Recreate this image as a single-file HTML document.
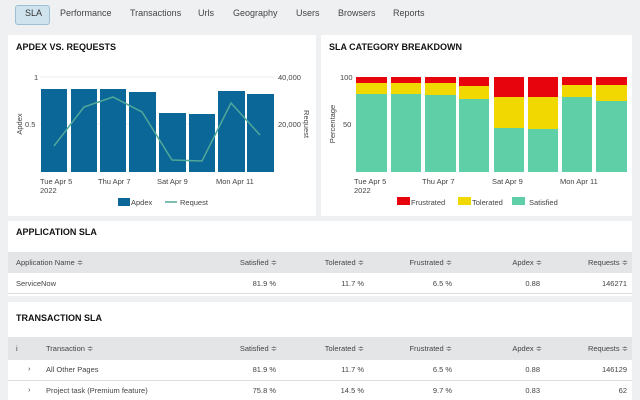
<!DOCTYPE html>
<html><head><meta charset="utf-8"><style>
body{margin:0;width:640px;height:400px;overflow:hidden;background:#eef0f2;font-family:"Liberation Sans",sans-serif;position:relative;color:#333}
.a{position:absolute;white-space:nowrap}
.tab{position:absolute;top:8px;font-size:9px;color:#444}
.panel{position:absolute;background:#fff}
.t{font-size:9px;font-weight:bold;color:#111}
.s{font-size:7.5px;color:#444}
.r{text-align:right}
</style></head><body>
<div class="a" style="left:15px;top:5px;width:35px;height:20px;background:#cfe3ee;border:1px solid #9cbfd2;border-radius:3px;box-sizing:border-box"></div>
<div class="tab" style="left:25px;color:#333">SLA</div>
<div class="tab" style="left:60px">Performance</div>
<div class="tab" style="left:130px">Transactions</div>
<div class="tab" style="left:198px">Urls</div>
<div class="tab" style="left:233px">Geography</div>
<div class="tab" style="left:296px">Users</div>
<div class="tab" style="left:338px">Browsers</div>
<div class="tab" style="left:393px">Reports</div>

<div class="panel" style="left:8px;top:35px;width:308px;height:181px"></div>
<div class="panel" style="left:321px;top:35px;width:311px;height:181px"></div>
<div class="a t" style="left:16px;top:42px">APDEX VS. REQUESTS</div>
<div class="a t" style="left:329px;top:42px">SLA CATEGORY BREAKDOWN</div>

<svg class="a" style="left:0;top:0" width="640" height="220" font-family="Liberation Sans,sans-serif" font-size="7.5" fill="#444">
<line x1="40" y1="77" x2="275" y2="77" stroke="#eee"/>
<line x1="40" y1="124" x2="275" y2="124" stroke="#eee"/>
<g fill="#0b6797">
<rect x="41" y="89" width="26" height="83"/><rect x="71" y="89" width="26" height="83"/>
<rect x="100" y="89" width="26" height="83"/><rect x="129" y="92" width="27" height="80"/>
<rect x="159" y="113" width="27" height="59"/><rect x="189" y="114" width="26" height="58"/>
<rect x="218" y="91" width="27" height="81"/><rect x="247" y="94" width="27" height="78"/>
</g>
<polyline fill="none" stroke="#4fa89a" stroke-width="1.5" points="54,146 84,107 113,97 142,112 172,160 202,161 231,103 260,135"/>
<text x="34" y="80">1</text><text x="25" y="127">0.5</text>
<text x="278" y="80">40,000</text><text x="278" y="127">20,000</text>
<text transform="translate(22,124) rotate(-90)" text-anchor="middle">Apdex</text>
<text transform="translate(304,124) rotate(90)" text-anchor="middle">Request</text>
<text x="40" y="184">Tue Apr 5</text><text x="40" y="193">2022</text>
<text x="98" y="184">Thu Apr 7</text><text x="157" y="184">Sat Apr 9</text><text x="216" y="184">Mon Apr 11</text>
<rect x="118" y="198" width="12" height="8" fill="#0b6797"/><text x="131" y="205">Apdex</text>
<line x1="165" y1="202" x2="177" y2="202" stroke="#4fa89a" stroke-width="1.5"/><text x="180" y="205">Request</text>

<g>
<rect x="356" y="77" width="31" height="95" fill="#e8040c"/><rect x="356" y="83" width="31" height="11" fill="#f0d800"/><rect x="356" y="94" width="31" height="78" fill="#5ecfa6"/>
<rect x="391" y="77" width="30" height="95" fill="#e8040c"/><rect x="391" y="83" width="30" height="11" fill="#f0d800"/><rect x="391" y="94" width="30" height="78" fill="#5ecfa6"/>
<rect x="425" y="77" width="31" height="95" fill="#e8040c"/><rect x="425" y="83" width="31" height="12" fill="#f0d800"/><rect x="425" y="95" width="31" height="77" fill="#5ecfa6"/>
<rect x="459" y="77" width="30" height="95" fill="#e8040c"/><rect x="459" y="86" width="30" height="13" fill="#f0d800"/><rect x="459" y="99" width="30" height="73" fill="#5ecfa6"/>
<rect x="494" y="77" width="30" height="95" fill="#e8040c"/><rect x="494" y="97" width="30" height="31" fill="#f0d800"/><rect x="494" y="128" width="30" height="44" fill="#5ecfa6"/>
<rect x="528" y="77" width="30" height="95" fill="#e8040c"/><rect x="528" y="97" width="30" height="32" fill="#f0d800"/><rect x="528" y="129" width="30" height="43" fill="#5ecfa6"/>
<rect x="562" y="77" width="30" height="95" fill="#e8040c"/><rect x="562" y="85" width="30" height="12" fill="#f0d800"/><rect x="562" y="97" width="30" height="75" fill="#5ecfa6"/>
<rect x="596" y="77" width="31" height="95" fill="#e8040c"/><rect x="596" y="85" width="31" height="16" fill="#f0d800"/><rect x="596" y="101" width="31" height="71" fill="#5ecfa6"/>
</g>
<text x="340" y="80">100</text><text x="343" y="127">50</text>
<text transform="translate(335,124) rotate(-90)" text-anchor="middle">Percentage</text>
<text x="354" y="184">Tue Apr 5</text><text x="354" y="193">2022</text>
<text x="422" y="184">Thu Apr 7</text><text x="492" y="184">Sat Apr 9</text><text x="560" y="184">Mon Apr 11</text>
<rect x="397" y="197" width="13" height="8" fill="#e8040c"/><text x="411" y="205">Frustrated</text>
<rect x="458" y="197" width="13" height="8" fill="#f0d800"/><text x="472" y="205">Tolerated</text>
<rect x="512" y="197" width="13" height="8" fill="#5ecfa6"/><text x="529" y="205">Satisfied</text>
</svg>

<div class="panel" style="left:8px;top:221px;width:624px;height:75px"></div>
<div class="a t" style="left:16px;top:227px">APPLICATION SLA</div>
<div class="a" style="left:8px;top:252px;width:624px;height:21px;background:#e4e5e6"></div>
<div class="a" style="left:8px;top:293px;width:624px;height:1px;background:#ddd"></div>
<div class="a s" style="left:16px;top:258px">Application Name ≑</div>
<div class="a s r" style="left:200px;top:258px;width:77px">Satisfied ≑</div>
<div class="a s r" style="left:290px;top:258px;width:74px">Tolerated ≑</div>
<div class="a s r" style="left:370px;top:258px;width:82px">Frustrated ≑</div>
<div class="a s r" style="left:470px;top:258px;width:72px">Apdex ≑</div>
<div class="a s r" style="left:550px;top:258px;width:78px">Requests ≑</div>
<div class="a s" style="left:16px;top:279px">ServiceNow</div>
<div class="a s r" style="left:200px;top:279px;width:76px">81.9 %</div>
<div class="a s r" style="left:290px;top:279px;width:74px">11.7 %</div>
<div class="a s r" style="left:370px;top:279px;width:82px">6.5 %</div>
<div class="a s r" style="left:470px;top:279px;width:70px">0.88</div>
<div class="a s r" style="left:550px;top:279px;width:77px">146271</div>

<div class="panel" style="left:8px;top:302px;width:624px;height:98px"></div>
<div class="a t" style="left:16px;top:313px">TRANSACTION SLA</div>
<div class="a" style="left:8px;top:337px;width:624px;height:23px;background:#e4e5e6"></div>
<div class="a" style="left:8px;top:380px;width:624px;height:1px;background:#ddd"></div>
<div class="a s" style="left:16px;top:344px">i</div>
<div class="a s" style="left:46px;top:344px">Transaction ≑</div>
<div class="a s r" style="left:200px;top:344px;width:77px">Satisfied ≑</div>
<div class="a s r" style="left:290px;top:344px;width:74px">Tolerated ≑</div>
<div class="a s r" style="left:370px;top:344px;width:82px">Frustrated ≑</div>
<div class="a s r" style="left:470px;top:344px;width:72px">Apdex ≑</div>
<div class="a s r" style="left:550px;top:344px;width:78px">Requests ≑</div>
<div class="a s" style="left:28px;top:364px">›</div>
<div class="a s" style="left:46px;top:365px">All Other Pages</div>
<div class="a s r" style="left:200px;top:365px;width:76px">81.9 %</div>
<div class="a s r" style="left:290px;top:365px;width:74px">11.7 %</div>
<div class="a s r" style="left:370px;top:365px;width:82px">6.5 %</div>
<div class="a s r" style="left:470px;top:365px;width:70px">0.88</div>
<div class="a s r" style="left:550px;top:365px;width:77px">146129</div>
<div class="a s" style="left:28px;top:385px">›</div>
<div class="a s" style="left:46px;top:386px">Project task (Premium feature)</div>
<div class="a s r" style="left:200px;top:386px;width:76px">75.8 %</div>
<div class="a s r" style="left:290px;top:386px;width:74px">14.5 %</div>
<div class="a s r" style="left:370px;top:386px;width:82px">9.7 %</div>
<div class="a s r" style="left:470px;top:386px;width:70px">0.83</div>
<div class="a s r" style="left:550px;top:386px;width:77px">62</div>
</body></html>
